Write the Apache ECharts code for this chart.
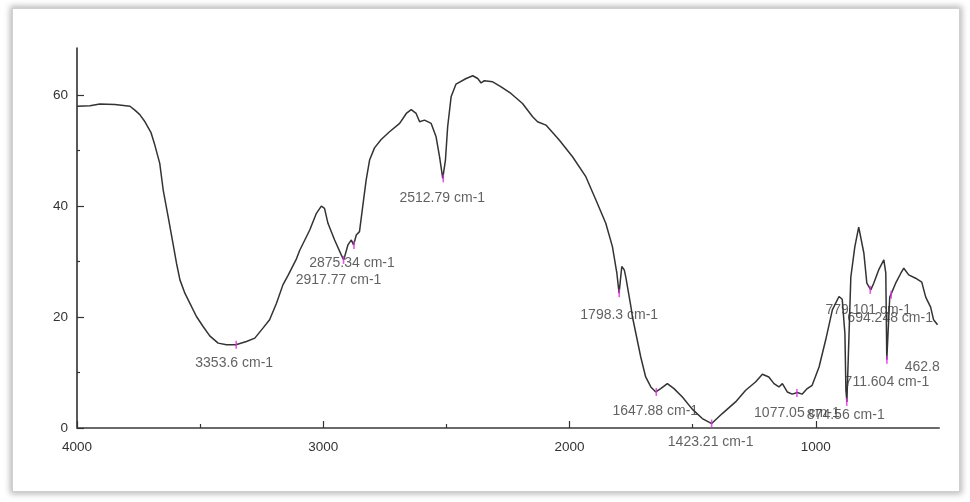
<!DOCTYPE html>
<html>
<head>
<meta charset="utf-8">
<script src="https://cdn.jsdelivr.net/npm/echarts@6/dist/echarts.min.js"></script>
<style>
  html, body { margin: 0; padding: 0; background: #fff; }
  #frame { position: absolute; left: 12px; top: 8px; width: 946px; height: 482px;
           border: 1px solid #d0d0d0; box-shadow: 0 0 6px 2px rgba(0,0,0,0.28); background: #fff; }
  #chart { position: absolute; left: 0; top: 0; width: 970px; height: 502px; }
</style>
</head>
<body>
<div id="frame"></div>
<div id="chart"></div>
<script>
// Spectrum (wavenumber cm-1, transmittance %)
const wavenumbers = [4000, 3947, 3907, 3846, 3785, 3765, 3745, 3724, 3700, 3684, 3664, 3650, 3630, 3610, 3596, 3582,
  3562, 3542, 3515, 3488, 3461, 3427, 3393, 3355, 3312, 3278, 3245, 3218, 3190, 3164, 3143, 3109, 3096, 3055, 3028,
  3008, 2995, 2981, 2954, 2927, 2917, 2900, 2886, 2877, 2866, 2853, 2840, 2826, 2812, 2792, 2765, 2731, 2690, 2663,
  2643, 2623, 2609, 2589, 2562, 2542, 2528, 2515, 2504, 2495, 2481, 2461, 2420, 2393, 2373, 2359, 2346, 2312, 2278,
  2238, 2191, 2150, 2130, 2096, 2042, 1988, 1934, 1893, 1853, 1826, 1808, 1799, 1788, 1778, 1772, 1751, 1745, 1711,
  1691, 1670, 1650, 1630, 1603, 1576, 1542, 1502, 1461, 1423, 1380, 1326, 1285, 1245, 1217, 1191, 1170, 1150, 1136,
  1116, 1096, 1075, 1056, 1035, 1015, 987, 960, 933, 906, 893, 882, 878, 874, 858, 842, 826, 805, 793, 777, 765, 745,
  724, 716, 712, 700, 696, 676, 655, 643, 623, 595, 570, 554, 534, 522, 506];
const transmittance = [58.0, 58.1, 58.4, 58.3, 58.0, 57.3, 56.5, 55.2, 53.3, 51.0, 47.7, 42.9, 38.1, 33.2, 29.7, 26.7,
  24.3, 22.5, 20.1, 18.3, 16.6, 15.3, 15.0, 15.0, 15.6, 16.2, 18.0, 19.5, 22.5, 25.8, 27.5, 30.5, 32.0, 35.7, 38.7,
  40.0, 39.6, 36.9, 33.9, 31.2, 30.3, 33.0, 33.9, 33.0, 34.8, 35.4, 39.9, 44.7, 48.3, 50.5, 52.0, 53.4, 54.9, 56.7,
  57.4, 56.7, 55.2, 55.5, 54.9, 52.5, 48.9, 45.0, 48.3, 54.3, 59.7, 62.0, 63.0, 63.5, 63.0, 62.2, 62.6, 62.4, 61.5,
  60.3, 58.5, 56.1, 55.2, 54.6, 51.9, 48.9, 45.3, 41.1, 36.9, 32.7, 27.9, 24.3, 29.1, 28.5, 27.3, 21.9, 20.1, 12.8,
  9.2, 7.4, 6.5, 7.1, 8.0, 7.1, 5.6, 3.4, 1.7, 0.8, 2.6, 4.7, 6.8, 8.3, 9.7, 9.2, 8.0, 7.4, 8.0,
  6.5, 6.1, 6.4, 6.1, 7.1, 7.7, 11.0, 15.9, 21.3, 23.7, 23.2, 17.0, 6.8, 4.7, 27.2, 32.6, 36.2, 31.5, 26.1, 24.9, 26.1, 28.5,
  30.3, 27.9, 12.3, 23.6, 24.0, 26.1, 27.9, 28.8, 27.6, 27.0, 26.3, 23.6, 21.8, 19.5, 18.6];

// Peak annotations
const peakWavenumbers = [3353.6, 2917.77, 2875.34, 2512.79, 1798.3, 1647.88, 1423.21, 1077.05, 874.56, 779.101, 711.604, 694.248, 462.8];
const peakValues      = [15.0, 30.3, 33.0, 45.0, 24.3, 6.5, 0.8, 6.3, 4.7, 24.9, 12.3, 24.0, 14.6];
const peakLabels      = ['3353.6 cm-1', '2917.77 cm-1', '2875.34 cm-1', '2512.79 cm-1', '1798.3 cm-1', '1647.88 cm-1',
  '1423.21 cm-1', '1077.05 cm-1', '874.56 cm-1', '779.101 cm-1', '711.604 cm-1', '694.248 cm-1', '462.8'];

// Axis ticks
const xTickLabels = [4000, 3000, 2000, 1000];
const xMinorTicks = [3500, 2500, 1500];
const yTickLabels = [0, 20, 40, 60];
const yMinorTicks = [10, 30, 50];

// label placement (pixels, relative to the peak point) — layout only
const labelOffsets = [[-2, 18], [-5, 20], [-2, 18], [-1, 20], [0, 22], [-1, 19], [-1, 19], [0, 20], [-1, 13],
  [-2, 20], [0, 22], [-1, 23], [-26, 20]];
const hideMarker = [false, false, false, false, false, false, false, false, false, false, false, false, true];

const FONT = 'Liberation Sans';
const chart = echarts.init(document.getElementById('chart'), null, { renderer: 'canvas' });

const xCommon = { type: 'value', inverse: true, min: 500, max: 4000, gridIndex: 0, position: 'bottom', splitLine: { show: false } };
const yCommon = { type: 'value', min: 0, max: 68.5, gridIndex: 0, position: 'left', splitLine: { show: false } };

chart.setOption({
  animation: false,
  backgroundColor: 'transparent',
  grid: { left: 77, right: 31, top: 48, bottom: 74, containLabel: false },
  xAxis: [
    Object.assign({}, xCommon, {
      axisLine: { show: true, lineStyle: { color: '#6a6a6a', width: 2 } },
      axisTick: { show: true, inside: true, length: 7, customValues: xTickLabels, lineStyle: { color: '#333', width: 1.2 } },
      axisLabel: { show: true, customValues: xTickLabels, formatter: v => String(v), color: '#333', fontSize: 13.5, fontFamily: FONT, margin: 12 }
    }),
    Object.assign({}, xCommon, {
      axisLine: { show: false },
      axisTick: { show: true, inside: true, length: 4, customValues: xMinorTicks, lineStyle: { color: '#333', width: 1.2 } },
      axisLabel: { show: false }
    })
  ],
  yAxis: [
    Object.assign({}, yCommon, {
      axisLine: { show: true, lineStyle: { color: '#222', width: 1.5 } },
      axisTick: { show: true, inside: true, length: 7, customValues: yTickLabels, lineStyle: { color: '#333', width: 1.2 } },
      axisLabel: { show: true, customValues: yTickLabels, formatter: v => String(v), color: '#333', fontSize: 13.5, fontFamily: FONT, margin: 9 }
    }),
    Object.assign({}, yCommon, {
      axisLine: { show: false },
      axisTick: { show: true, inside: true, length: 3, customValues: yMinorTicks, lineStyle: { color: '#333', width: 1.2 } },
      axisLabel: { show: false }
    })
  ],
  series: [
    {
      type: 'line',
      xAxisIndex: 0, yAxisIndex: 0,
      data: wavenumbers.map((w, i) => [w, transmittance[i]]),
      showSymbol: false,
      symbol: 'none',
      lineStyle: { color: '#333333', width: 1.5 },
      z: 3
    },
    {
      type: 'scatter',
      xAxisIndex: 0, yAxisIndex: 0,
      clip: false,
      data: peakWavenumbers.map((w, i) => ({
        value: [w, peakValues[i]],
        symbolSize: hideMarker[i] ? 0 : [1.6, 8],
        label: { offset: labelOffsets[i] }
      })),
      symbol: 'rect',
      itemStyle: { color: '#e030e0' },
      label: {
        show: true,
        position: 'inside',
        formatter: p => peakLabels[p.dataIndex],
        color: '#3a3a3a',
        fontSize: 14,
        fontFamily: FONT
      },
      z: 4
    }
  ]
});
</script>
</body>
</html>
